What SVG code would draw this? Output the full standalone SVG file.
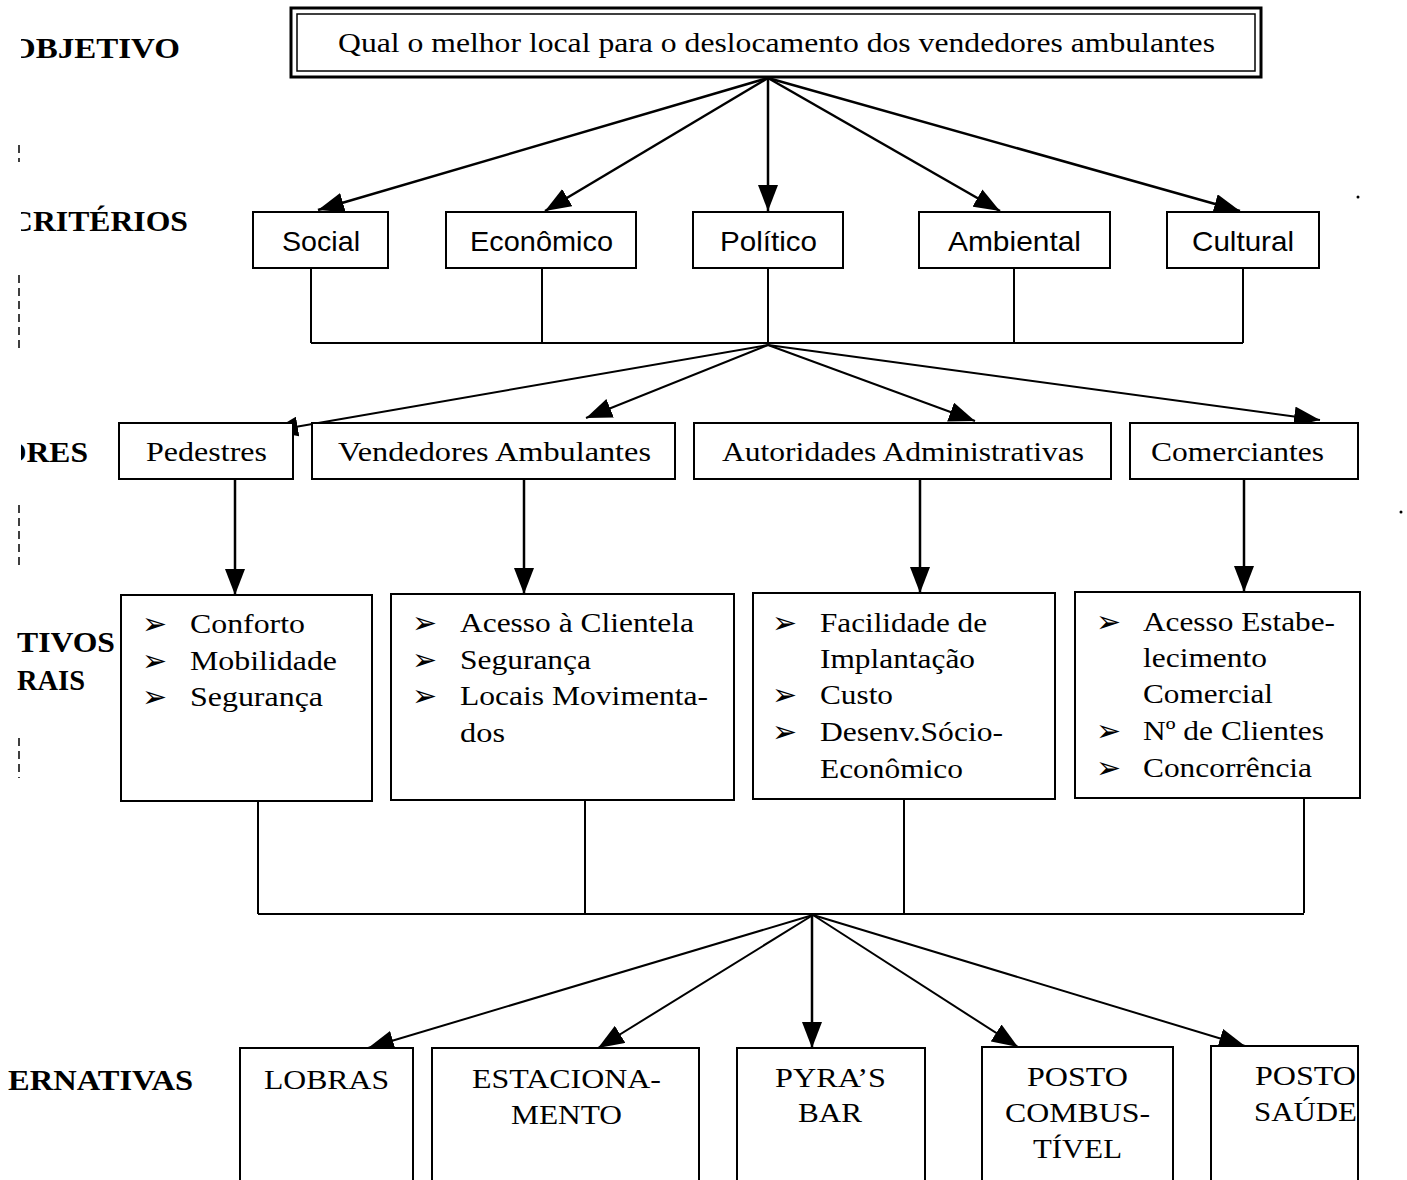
<svg xmlns="http://www.w3.org/2000/svg" width="1407" height="1180" viewBox="0 0 1407 1180">
<style>
.box{fill:#fff;stroke:#000;stroke-width:2}
.t{font-family:"Liberation Serif","Times New Roman",serif;font-size:28px;fill:#000}
.s{font-family:"Liberation Sans",Arial,sans-serif;font-size:28px;fill:#000}
.lab{font-family:"Liberation Serif","Times New Roman",serif;font-size:30px;font-weight:bold;fill:#000}
.b{font-family:"DejaVu Sans",sans-serif;font-size:30px;fill:#000}
.c{fill:none;stroke:#000;stroke-width:2.5}
.l{fill:none;stroke:#000;stroke-width:2}
.art{fill:none;stroke:#000;stroke-width:1.5;stroke-dasharray:8 5}
</style>
<defs>
<marker id="ah" markerWidth="26" markerHeight="20" refX="26" refY="10" orient="auto" markerUnits="userSpaceOnUse">
<path d="M0,0 L26,10 L0,20 z" fill="#000"/>
</marker>
<clipPath id="lc"><rect x="21" y="0" width="400" height="1180"/></clipPath>
</defs>
<rect width="1407" height="1180" fill="#fff"/>

<g id="labels">
<text class="lab" x="10" y="58" textLength="170" lengthAdjust="spacingAndGlyphs" clip-path="url(#lc)">OBJETIVO</text>
<text class="lab" x="10" y="231" textLength="178" lengthAdjust="spacingAndGlyphs" clip-path="url(#lc)">CRITÉRIOS</text>
<text class="lab" x="2" y="462" textLength="86" lengthAdjust="spacingAndGlyphs" clip-path="url(#lc)">ORES</text>
<text class="lab" x="17" y="652" textLength="98" lengthAdjust="spacingAndGlyphs">TIVOS</text>
<text class="lab" x="17" y="690" textLength="68" lengthAdjust="spacingAndGlyphs">RAIS</text>
<text class="lab" x="8" y="1090" textLength="185" lengthAdjust="spacingAndGlyphs">ERNATIVAS</text>
<path class="art" d="M19,145 V162 M19,275 V350 M19,505 V565 M19,738 V778"/>
<circle cx="1358" cy="197" r="1.5"/>
<circle cx="1401" cy="512" r="1.5"/>
</g>

<g id="connectors">
<line class="c" x1="768" y1="78" x2="318" y2="210" marker-end="url(#ah)"/>
<line class="c" x1="768" y1="78" x2="545" y2="211" marker-end="url(#ah)"/>
<line class="c" x1="768" y1="78" x2="768" y2="211" marker-end="url(#ah)"/>
<line class="c" x1="768" y1="78" x2="1000" y2="211" marker-end="url(#ah)"/>
<line class="c" x1="768" y1="78" x2="1240" y2="211" marker-end="url(#ah)"/>
<path class="l" d="M311,268 V343 M542,268 V343 M768,268 V343 M1014,268 V343 M1243,268 V343 M311,343 H1243"/>
<line class="l" x1="768" y1="345" x2="272" y2="431" marker-end="url(#ah)"/>
<line class="l" x1="768" y1="345" x2="586" y2="418" marker-end="url(#ah)"/>
<line class="l" x1="768" y1="345" x2="975" y2="421" marker-end="url(#ah)"/>
<line class="l" x1="768" y1="345" x2="1320" y2="420" marker-end="url(#ah)"/>
<line class="c" x1="235" y1="479" x2="235" y2="595" marker-end="url(#ah)"/>
<line class="c" x1="524" y1="479" x2="524" y2="594" marker-end="url(#ah)"/>
<line class="c" x1="920" y1="479" x2="920" y2="593" marker-end="url(#ah)"/>
<line class="c" x1="1244" y1="479" x2="1244" y2="592" marker-end="url(#ah)"/>
<path class="l" d="M258,801 V914 M585,800 V914 M904,799 V913 M1304,798 V913 M258,914 H1304"/>
<line class="l" x1="813" y1="915" x2="368" y2="1048" marker-end="url(#ah)"/>
<line class="l" x1="813" y1="915" x2="598" y2="1048" marker-end="url(#ah)"/>
<line class="c" x1="812" y1="915" x2="812" y2="1048" marker-end="url(#ah)"/>
<line class="l" x1="813" y1="915" x2="1018" y2="1047" marker-end="url(#ah)"/>
<line class="l" x1="813" y1="915" x2="1245" y2="1046" marker-end="url(#ah)"/>
</g>

<g id="objetivo">
<rect x="291" y="8" width="970" height="69" fill="#fff" stroke="#000" stroke-width="3"/>
<rect x="297" y="14" width="958" height="57" fill="none" stroke="#000" stroke-width="1.5"/>
<text class="t" x="338" y="52" textLength="877" lengthAdjust="spacingAndGlyphs">Qual o melhor local para o deslocamento dos vendedores ambulantes</text>
</g>

<g id="social"><rect class="box" x="253" y="212" width="135" height="56"/><text class="s" x="282" y="251" textLength="78" lengthAdjust="spacingAndGlyphs">Social</text></g>
<g id="economico"><rect class="box" x="446" y="212" width="190" height="56"/><text class="s" x="470" y="251" textLength="143" lengthAdjust="spacingAndGlyphs">Econômico</text></g>
<g id="politico"><rect class="box" x="693" y="212" width="150" height="56"/><text class="s" x="720" y="251" textLength="97" lengthAdjust="spacingAndGlyphs">Político</text></g>
<g id="ambiental"><rect class="box" x="919" y="212" width="191" height="56"/><text class="s" x="948" y="251" textLength="133" lengthAdjust="spacingAndGlyphs">Ambiental</text></g>
<g id="cultural"><rect class="box" x="1167" y="212" width="152" height="56"/><text class="s" x="1192" y="251" textLength="102" lengthAdjust="spacingAndGlyphs">Cultural</text></g>

<g id="pedestres"><rect class="box" x="119" y="423" width="174" height="56"/><text class="t" x="146" y="461" textLength="121" lengthAdjust="spacingAndGlyphs">Pedestres</text></g>
<g id="vendedores"><rect class="box" x="312" y="423" width="363" height="56"/><text class="t" x="338" y="461" textLength="313" lengthAdjust="spacingAndGlyphs">Vendedores Ambulantes</text></g>
<g id="autoridades"><rect class="box" x="694" y="423" width="417" height="56"/><text class="t" x="722" y="461" textLength="362" lengthAdjust="spacingAndGlyphs">Autoridades Administrativas</text></g>
<g id="comerciantes"><rect class="box" x="1130" y="423" width="228" height="56"/><text class="t" x="1151" y="461" textLength="173" lengthAdjust="spacingAndGlyphs">Comerciantes</text></g>

<g id="obj-pedestres">
<rect class="box" x="121" y="595" width="251" height="206"/>
<text class="b" x="142" y="634">➢</text><text class="t" x="190" y="633" textLength="115" lengthAdjust="spacingAndGlyphs">Conforto</text>
<text class="b" x="142" y="671">➢</text><text class="t" x="190" y="670" textLength="147" lengthAdjust="spacingAndGlyphs">Mobilidade</text>
<text class="b" x="142" y="707">➢</text><text class="t" x="190" y="706" textLength="133" lengthAdjust="spacingAndGlyphs">Segurança</text>
</g>
<g id="obj-vendedores">
<rect class="box" x="391" y="594" width="343" height="206"/>
<text class="b" x="412" y="633">➢</text><text class="t" x="460" y="632" textLength="234" lengthAdjust="spacingAndGlyphs">Acesso à Clientela</text>
<text class="b" x="412" y="670">➢</text><text class="t" x="460" y="669" textLength="131" lengthAdjust="spacingAndGlyphs">Segurança</text>
<text class="b" x="412" y="706">➢</text><text class="t" x="460" y="705" textLength="248" lengthAdjust="spacingAndGlyphs">Locais Movimenta-</text>
<text class="t" x="460" y="742" textLength="45" lengthAdjust="spacingAndGlyphs">dos</text>
</g>
<g id="obj-autoridades">
<rect class="box" x="753" y="593" width="302" height="206"/>
<text class="b" x="772" y="633">➢</text><text class="t" x="820" y="632" textLength="167" lengthAdjust="spacingAndGlyphs">Facilidade de</text>
<text class="t" x="820" y="668" textLength="155" lengthAdjust="spacingAndGlyphs">Implantação</text>
<text class="b" x="772" y="705">➢</text><text class="t" x="820" y="704" textLength="73" lengthAdjust="spacingAndGlyphs">Custo</text>
<text class="b" x="772" y="742">➢</text><text class="t" x="820" y="741" textLength="183" lengthAdjust="spacingAndGlyphs">Desenv.Sócio-</text>
<text class="t" x="820" y="778" textLength="143" lengthAdjust="spacingAndGlyphs">Econômico</text>
</g>
<g id="obj-comerciantes">
<rect class="box" x="1075" y="592" width="285" height="206"/>
<text class="b" x="1096" y="632">➢</text><text class="t" x="1143" y="631" textLength="192" lengthAdjust="spacingAndGlyphs">Acesso Estabe-</text>
<text class="t" x="1143" y="667" textLength="124" lengthAdjust="spacingAndGlyphs">lecimento</text>
<text class="t" x="1143" y="703" textLength="130" lengthAdjust="spacingAndGlyphs">Comercial</text>
<text class="b" x="1096" y="741">➢</text><text class="t" x="1143" y="740" textLength="181" lengthAdjust="spacingAndGlyphs">Nº de Clientes</text>
<text class="b" x="1096" y="778">➢</text><text class="t" x="1143" y="777" textLength="169" lengthAdjust="spacingAndGlyphs">Concorrência</text>
</g>

<g id="lobras"><rect class="box" x="240" y="1048" width="173" height="140"/><text class="t" x="264" y="1089" textLength="125" lengthAdjust="spacingAndGlyphs">LOBRAS</text></g>
<g id="estacionamento"><rect class="box" x="432" y="1048" width="267" height="140"/><text class="t" x="472" y="1088" textLength="189" lengthAdjust="spacingAndGlyphs">ESTACIONA-</text><text class="t" x="511" y="1124" textLength="111" lengthAdjust="spacingAndGlyphs">MENTO</text></g>
<g id="pyras-bar"><rect class="box" x="737" y="1048" width="188" height="140"/><text class="t" x="775" y="1087" textLength="111" lengthAdjust="spacingAndGlyphs">PYRA’S</text><text class="t" x="798" y="1122" textLength="64" lengthAdjust="spacingAndGlyphs">BAR</text></g>
<g id="posto-combustivel"><rect class="box" x="982" y="1047" width="191" height="141"/><text class="t" x="1027" y="1086" textLength="101" lengthAdjust="spacingAndGlyphs">POSTO</text><text class="t" x="1005" y="1122" textLength="145" lengthAdjust="spacingAndGlyphs">COMBUS-</text><text class="t" x="1033" y="1158" textLength="89" lengthAdjust="spacingAndGlyphs">TÍVEL</text></g>
<g id="posto-saude"><rect class="box" x="1211" y="1046" width="147" height="142"/><text class="t" x="1255" y="1085" textLength="101" lengthAdjust="spacingAndGlyphs">POSTO</text><text class="t" x="1254" y="1121" textLength="103" lengthAdjust="spacingAndGlyphs">SAÚDE</text></g>
</svg>
